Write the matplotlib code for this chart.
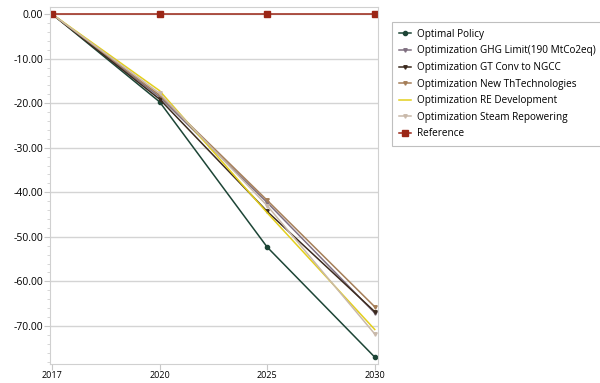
import matplotlib.pyplot as plt
from matplotlib.ticker import MultipleLocator, FormatStrFormatter

years = ['2017', '2020', '2025', '2030']

optimal = [0, -19.7, -52.3, -77.0]
ghg_limit = [0, -18.6, -42.3, -67.1]
gt_conv = [0, -19.1, -44.3, -66.8]
new_th = [0, -18.2, -41.8, -65.7]
re_dev = [0, -17.2, -44.6, -70.8]
steam = [0, -17.8, -43.0, -71.8]
reference = [0, 0, 0, 0]

series = [
    ('Optimal Policy', optimal, '#1d4536', 'o', 3),
    ('Optimization GHG Limit(190 MtCo2eq)', ghg_limit, '#7f6f80', 'v', 2.5),
    ('Optimization GT Conv to NGCC', gt_conv, '#3b2a1e', 'v', 2.5),
    ('Optimization New ThTechnologies', new_th, '#a57e58', 'v', 2.5),
    ('Optimization RE Development', re_dev, '#e3cf1c', None, 0),
    ('Optimization Steam Repowering', steam, '#c9b9aa', 'v', 2.5),
    ('Reference', reference, '#9b2616', 's', 4),
]

plt.rcParams['font.family'] = ['Open Sans', 'DejaVu Sans']

fig = plt.figure(figsize=(6, 3.83), dpi=100)
ax = fig.add_axes([0.083, 0.05, 0.547, 0.932])

x = range(len(years))
for label, vals, color, marker, ms in series:
    ax.plot(x, vals, color=color, lw=1.1, marker=marker, markersize=ms,
            label=label)

ax.set_xlim(-0.02, 3.03)
ax.set_ylim(-78.5, 1.6)
ax.set_xticks(list(x))
ax.set_xticklabels(years, fontsize=6.5)
ax.yaxis.set_major_locator(MultipleLocator(10))
ax.yaxis.set_minor_locator(MultipleLocator(2))
ax.yaxis.set_major_formatter(FormatStrFormatter('%.2f'))
ax.tick_params(axis='y', labelsize=7.5, length=4, color='#c8c8c8', pad=1)
ax.tick_params(axis='y', which='minor', length=2, color='#d0d0d0')
ax.tick_params(axis='x', length=4, color='#c8c8c8', pad=1)
ax.grid(axis='y', color='#d4d4d4', lw=1)
ax.set_axisbelow(True)
for s in ax.spines.values():
    s.set_color('#d0d0d0')

leg = fig.legend(loc='upper left', bbox_to_anchor=(0.653, 0.943),
                 borderaxespad=0, fontsize=7.2, frameon=True, fancybox=False,
                 handlelength=1.2, handletextpad=0.6, labelspacing=0.56,
                 borderpad=0.7)
leg.get_frame().set_edgecolor('#b0b0b0')
leg.get_frame().set_linewidth(0.8)

fig.savefig('out.png', dpi=100)
